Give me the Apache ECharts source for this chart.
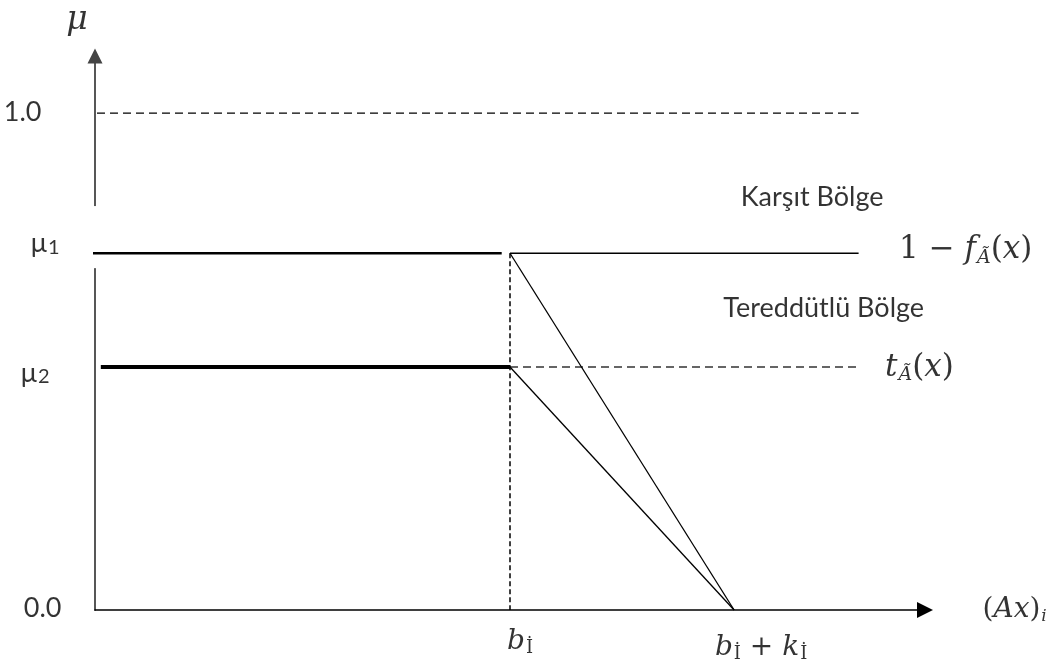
<!DOCTYPE html>
<html><head><meta charset="utf-8">
<script src="https://cdn.jsdelivr.net/npm/echarts@6/dist/echarts.min.js"></script>
<style>html,body{margin:0;padding:0;background:#fff}#c{width:1058px;height:666px}</style>
</head><body><div id="c"></div>
<script>
// ---- values ----
const X_MAX = 10;          // x axis extent (arbitrary units)
const Y_MAX = 1.115;       // y axis extent
const B = 5;               // b_i
const BK = 7.7;            // b_i + k_i
const X_END = 9.2;         // right end of horizontal reference lines
const ONE = 1.0;
const MU1 = 0.718;         // μ1 = 1 - f(x)
const MU2 = 0.489;         // μ2 = t(x)
const yTickValues = [ONE, MU1, MU2, 0];
const yTickLabels = ['{t|1.0}', '{t|μ}{ds|1}', '{t|μ}{ds|2}', '{t|0.0}'];
const xTickValues = [B, BK];
const xTickLabels = ['{it|b}{su|İ}', '{it|b}{su|İ}{n| + }{it|k}{su|İ}'];
const regionLabels = ['Karşıt Bölge', 'Tereddütlü Bölge'];
const regionX = [8.64, 8.78];
const regionY = [0.831, 0.608];
const curveLabels = ['{n|1 − }{it|f}{sb|Ã}{n|(}{it|x}{n|)}', '{it|t}{sb|Ã}{n|(}{it|x}{n|)}'];
const curveY = [MU1, MU2];
const xAxisName = '{n|(}{it|Ax}{n|)}{sb|i}';
const yAxisName = 'μ';

// ---- styling ----
const MATH = 'DejaVu Serif';
const SANS = 'Lato';
const richMath = {
  n:  {fontFamily: MATH, fontSize: 28, color: '#000', lineHeight: 30},
  it: {fontFamily: MATH, fontStyle: 'italic', fontSize: 28, color: '#000', lineHeight: 30},
  sb: {fontFamily: MATH, fontStyle: 'italic', fontSize: 17, color: '#000', lineHeight: 17, padding: [14, 0, 0, 1]},
  su: {fontFamily: MATH, fontSize: 18, color: '#000', lineHeight: 18, padding: [14, 0, 0, 1]}
};
const richCurve = {
  n:  {fontFamily: MATH, fontSize: 31, color: '#000', lineHeight: 32},
  it: {fontFamily: MATH, fontStyle: 'italic', fontSize: 31, color: '#000', lineHeight: 32},
  sb: {fontFamily: MATH, fontStyle: 'italic', fontSize: 19, color: '#000', lineHeight: 19, padding: [15, 0, 0, 1]}
};
const richMu = {
  it: {fontFamily: MATH, fontStyle: 'italic', fontSize: 33, color: '#000', lineHeight: 34}
};
const richSans = {
  t:  {fontFamily: SANS, fontSize: 27, color: '#000', lineHeight: 30},
  ds: {fontFamily: SANS, fontSize: 20, color: '#000', lineHeight: 20, padding: [8, 0, 0, 1]}
};
const yLabelDist = [53, 35, 45, 33];
const yLabelOff = [[0, -1], [0, -10], [0, 6], [0, -2]];

function lineSeries(data, width, dash, color) {
  return {
    type: 'line', data: data, showSymbol: false, symbol: 'none', clip: false, silent: true,
    animation: false, z: 3,
    lineStyle: {color: color || '#000', width: width, type: dash || 'solid', cap: 'butt'}
  };
}

const labelData = [];
yTickValues.forEach((v, i) => {
  labelData.push({value: [0, v], label: {show: true, position: 'left', distance: yLabelDist[i],
    offset: yLabelOff[i], formatter: yTickLabels[i], rich: richSans}});
});
labelData.push({value: [0, Y_MAX], label: {show: true, position: 'inside', offset: [-18, -36],
  formatter: '{it|' + yAxisName + '}', rich: richMu}});
regionLabels.forEach((t, i) => {
  labelData.push({value: [regionX[i], regionY[i]], label: {show: true, position: 'inside',
    formatter: '{t|' + t + '}', rich: richSans}});
});
const curveDist = [40, 26];
const curveOff = [[0, -3], [0, 1]];
curveLabels.forEach((t, i) => {
  labelData.push({value: [X_END, curveY[i]], label: {show: true, position: 'right',
    distance: curveDist[i], offset: curveOff[i], formatter: t, rich: richCurve}});
});
labelData.push({value: [X_MAX, 0], label: {show: true, position: 'right', distance: 57,
  offset: [0, 0], formatter: xAxisName, rich: richMath}});
const xLabDist = [16, 22];
const xLabOff = [[10, 0], [27, 0]];
xTickValues.forEach((v, i) => {
  labelData.push({value: [v, 0], label: {show: true, position: 'bottom', distance: xLabDist[i],
    offset: xLabOff[i], formatter: xTickLabels[i], rich: richMath}});
});

const option = {
  animation: false,
  backgroundColor: '#fff',
  grid: {left: 95, right: 133, top: 56, bottom: 56},
  xAxis: {
    type: 'value', min: 0, max: X_MAX,
    axisLine: {show: true, onZero: false, symbol: ['none', 'triangle'], symbolSize: [16, 16],
      lineStyle: {color: '#000', width: 1.5}},
    axisTick: {show: false}, axisLabel: {show: false}, splitLine: {show: false}
  },
  yAxis: {
    type: 'value', min: 0, max: Y_MAX,
    axisLine: {show: true, onZero: false, symbol: ['none', 'triangle'], symbolSize: [15, 15],
      lineStyle: {color: '#444', width: 1.8}},
    axisTick: {show: false}, axisLabel: {show: false}, splitLine: {show: false}
  },
  series: [
    // gap in the vertical axis
    lineSeries([[0, 0.688], [0, 0.813]], 6, 'solid', '#fff'),
    // 1.0 dashed reference
    lineSeries([[0.024, ONE], [X_END, ONE]], 1.2, [8, 5], '#000'),
    // μ1 line: double/thicker left part, thin right part
    lineSeries([[-0.036, MU1], [4.9, MU1]], 2.4),
    lineSeries([[B, MU1], [X_END, MU1]], 1.4),
    // μ2 thick line and dashed t line
    lineSeries([[0.07, MU2], [B, MU2]], 4),
    lineSeries([[B, MU2], [X_END, MU2]], 1.4, [8, 5], '#333'),
    // vertical dashed at b_i
    lineSeries([[B, MU1], [B, 0]], 1.5, [5, 3]),
    // diagonals
    lineSeries([[B, MU1], [BK, 0]], 1.3),
    lineSeries([[B, MU2], [BK, 0]], 1.3),
    {
      type: 'scatter', data: labelData, symbol: 'circle', symbolSize: 1, clip: false, silent: true,
      itemStyle: {color: 'rgba(0,0,0,0)'}, z: 5
    }
  ]
};
const chart = echarts.init(document.getElementById('c'));
chart.setOption(option);
</script>
</body></html>
